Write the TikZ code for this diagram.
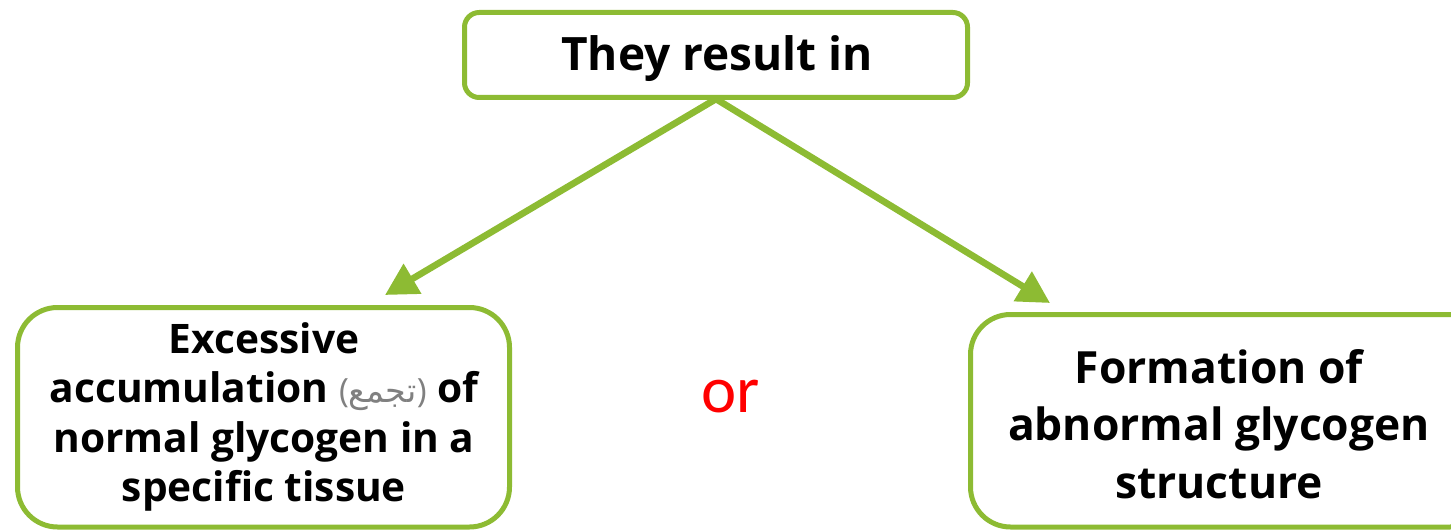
\documentclass[tikz,border=0pt]{standalone}
\usepackage{fontspec}
\setmainfont{Open Sans}
\newfontfamily\orfont{Carlito}
\newfontfamily\arabicfont[Script=Arabic]{DejaVu Sans}
\TeXXeTstate=1
\usetikzlibrary{arrows.meta}
\definecolor{leafgreen}{RGB}{141,187,51}
\definecolor{notegray}{RGB}{128,128,128}
\definecolor{orred}{RGB}{255,0,0}
\tikzset{
  box/.style={draw=leafgreen, line width=3.75pt, fill=white},
  label/.style={align=center, inner sep=0pt},
  link/.style={draw=leafgreen, line width=5pt,
    -{Triangle[length=24pt,width=25pt]}}
}
\newcommand{\arabicnote}[1]{{\mdseries\fontsize{25}{26}\selectfont\color{notegray}({\arabicfont\beginR #1\endR})}}
\begin{document}
\begin{tikzpicture}[x=0.75pt,y=-0.75pt]
  \useasboundingbox (0,0) rectangle (1451,531);
  \begin{scope}
    \clip (0,0) rectangle (1451,531);
    % frames
    \draw[box, rounded corners=11pt] (464.5,12.5) rectangle (967.5,97.5);
    \draw[box, rounded corners=30pt] (17.5,307.5) rectangle (509.5,527);
    \draw[box, rounded corners=30pt] (970.5,314.5) rectangle (1490,527);
  \end{scope}
  % end points of the connectors
  \coordinate (top) at (716,99);
  \coordinate (lefttip) at (385,295);
  \coordinate (righttip) at (1050,303);
  % texts
  \node[label, font=\bfseries\fontsize{34.5}{40}\selectfont] (head) at (717,59) {They result in};
  \node[label, font=\bfseries\fontsize{30.5}{37}\selectfont] (left) at (264,417) {Excessive\\
    accumulation \arabicnote{تجمع} of\\
    normal glycogen in a\\
    specific tissue};
  \node[label, font=\bfseries\fontsize{33.3}{43}\selectfont] (right) at (1219,424) {Formation of\\abnormal glycogen\\structure};
  \node[text=orred, font=\orfont\fontsize{50}{56}\selectfont, inner sep=0pt] (or) at (731,397) {or};
  % connectors
  \draw[link] (top) -- (lefttip);
  \draw[link] (top) -- (righttip);
\end{tikzpicture}
\end{document}
